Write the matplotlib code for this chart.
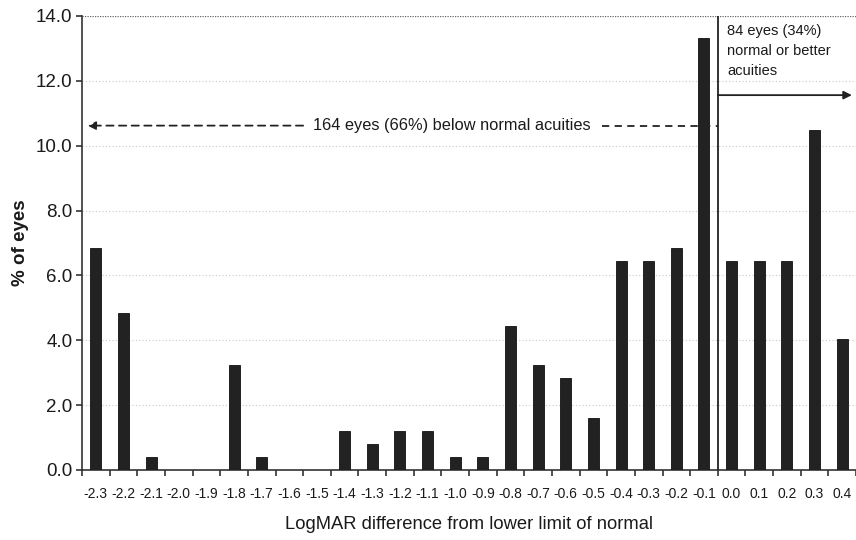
import matplotlib.pyplot as plt
import numpy as np

plt.rcParams['font.family'] = ['Liberation Sans', 'DejaVu Sans']

# LogMAR difference categories and eye counts (248 eyes in total)
categories = ['-2.3', '-2.2', '-2.1', '-2.0', '-1.9', '-1.8', '-1.7', '-1.6', '-1.5',
              '-1.4', '-1.3', '-1.2', '-1.1', '-1.0', '-0.9', '-0.8', '-0.7', '-0.6',
              '-0.5', '-0.4', '-0.3', '-0.2', '-0.1', '0.0', '0.1', '0.2', '0.3', '0.4']
counts = [17, 12, 1, 0, 0, 8, 1, 0, 0, 3, 2, 3, 3, 1, 1, 11, 8, 7, 4,
          16, 16, 17, 33, 16, 16, 16, 26, 10]
total_eyes = 248
pct = [c / total_eyes * 100 for c in counts]

yticks = [0, 2, 4, 6, 8, 10, 12, 14]

fig = plt.figure(figsize=(8.56, 5.4), dpi=100)
ax = fig.add_axes([82 / 856, 1 - 470 / 540, 1 - 82 / 856, (470 - 16) / 540])

x = np.arange(len(categories))
ax.bar(x, pct, width=0.4, color='#222222', edgecolor='#111111', linewidth=0.6, zorder=3)

ax.set_xlim(-0.5, -0.5 + (856 - 82) / 27.75)
ax.set_ylim(0, 14)

# gridlines
for y in yticks[1:-1]:
    ax.axhline(y, color='#c8c8c8', linestyle=(0, (1, 2)), linewidth=0.8, zorder=1)
ax.axhline(14, color='#666666', linestyle=(0, (1, 1)), linewidth=0.9, zorder=1)

for s in ['top', 'right']:
    ax.spines[s].set_visible(False)
ax.spines['left'].set_linewidth(1.2)
ax.spines['left'].set_color('#333333')
ax.spines['bottom'].set_linewidth(1.2)
ax.spines['bottom'].set_color('#333333')

ax.set_yticks(yticks)
ax.set_yticklabels([f'{v:.1f}' for v in yticks], fontsize=13.5, color='#1a1a1a')
ax.tick_params(axis='y', direction='out', length=4, width=1.2, color='#333333', pad=3)

ax.set_xticks(x)
ax.set_xticklabels(categories, fontsize=10, color='#1a1a1a',
                   family=['Liberation Sans Narrow', 'Liberation Sans', 'DejaVu Sans'])
ax.set_xticks(np.arange(len(categories) + 1) - 0.5, minor=True)
ax.tick_params(axis='x', which='major', length=0, pad=12)
ax.tick_params(axis='x', which='minor', direction='out', length=4, width=1.2, color='#333333')

ax.set_ylabel('% of eyes', fontsize=13.5, fontweight='bold', color='#1a1a1a', labelpad=5)
ax.set_xlabel('LogMAR difference from lower limit of normal', fontsize=13.2,
              color='#1a1a1a', labelpad=11)

# divider between below-normal and normal acuities
split = 22.5
ax.plot([split, split], [0, 14], color='#222222', linewidth=1.3, zorder=4)

# left dashed arrow with label
ax.annotate('', xy=(-0.3, 10.62), xytext=(7.5, 10.62),
            arrowprops=dict(arrowstyle='-|>', linestyle=(0, (4, 3)), color='#222222',
                            linewidth=1.3, mutation_scale=12, shrinkA=0, shrinkB=0))
ax.text(7.85, 10.62, '164 eyes (66%) below normal acuities', fontsize=11.8,
        color='#1a1a1a', va='center', ha='left')
ax.plot([18.3, split], [10.62, 10.62], color='#222222', linestyle=(0, (4, 3)),
        linewidth=1.3, zorder=4)

# right solid arrow with label
ax.annotate('', xy=(27.35, 11.56), xytext=(split, 11.56),
            arrowprops=dict(arrowstyle='-|>', color='#222222', linewidth=1.3,
                            mutation_scale=12, shrinkA=0, shrinkB=0))
ax.text(22.85, 13.75, '84 eyes (34%)\nnormal or better\nacuities', fontsize=10.5,
        color='#1a1a1a', va='top', ha='left', linespacing=1.55)

fig.savefig('out.png', dpi=100)
